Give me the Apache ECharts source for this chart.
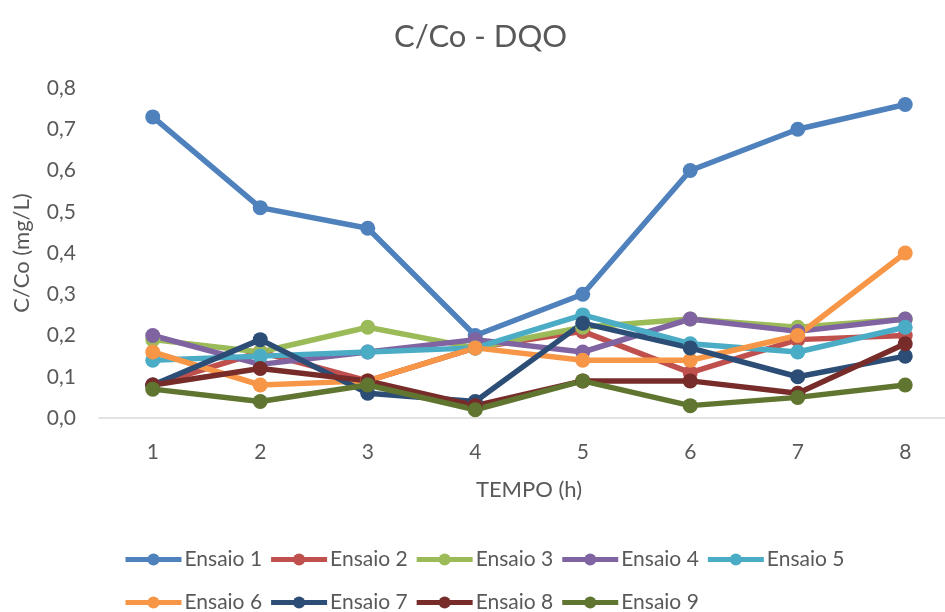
<!DOCTYPE html>
<html>
<head>
<meta charset="utf-8">
<script src="https://cdn.jsdelivr.net/npm/echarts@6/dist/echarts.min.js"></script>
<style>
html,body{margin:0;padding:0;background:#fff;}
#chart{width:945px;height:612px;}
</style>
</head>
<body>
<div id="chart"></div>
<script>
var categories = ['1','2','3','4','5','6','7','8'];
var yTicks = ['0,0','0,1','0,2','0,3','0,4','0,5','0,6','0,7','0,8'];
var seriesNames = ['Ensaio 1','Ensaio 2','Ensaio 3','Ensaio 4','Ensaio 5','Ensaio 6','Ensaio 7','Ensaio 8','Ensaio 9'];
var ensaio1 = [0.73, 0.51, 0.46, 0.20, 0.30, 0.60, 0.70, 0.76];
var ensaio2 = [0.08, 0.16, 0.09, 0.17, 0.21, 0.11, 0.19, 0.20];
var ensaio3 = [0.19, 0.16, 0.22, 0.17, 0.22, 0.24, 0.22, 0.24];
var ensaio4 = [0.20, 0.13, 0.16, 0.19, 0.16, 0.24, 0.21, 0.24];
var ensaio5 = [0.14, 0.15, 0.16, 0.17, 0.25, 0.18, 0.16, 0.22];
var ensaio6 = [0.16, 0.08, 0.09, 0.17, 0.14, 0.14, 0.20, 0.40];
var ensaio7 = [0.08, 0.19, 0.06, 0.04, 0.23, 0.17, 0.10, 0.15];
var ensaio8 = [0.08, 0.12, 0.09, 0.03, 0.09, 0.09, 0.06, 0.18];
var ensaio9 = [0.07, 0.04, 0.08, 0.02, 0.09, 0.03, 0.05, 0.08];
var allData = [ensaio1, ensaio2, ensaio3, ensaio4, ensaio5, ensaio6, ensaio7, ensaio8, ensaio9];
var colors = ['#4F81BD','#C0504D','#9BBB59','#8064A2','#4BACC6','#F79646','#2C4D75','#772C2A','#5F7530'];

var FONT = 'Lato';
var TXT = '#595959';

var chart = echarts.init(document.getElementById('chart'), null, {renderer:'canvas'});

var xValues = categories.map(function(c){ return Number(c); });

var series = seriesNames.map(function(n, i){
  return {
    name: n,
    type: 'line',
    data: allData[i].map(function(v, j){ return [xValues[j], v]; }),
    symbol: 'circle',
    symbolSize: 15,
    lineStyle: {width: 5.5, color: colors[i]},
    itemStyle: {color: colors[i]},
    emphasis: {disabled: true},
    animation: false
  };
});

var legendCommon = {
  left: 123,
  padding: 0,
  itemWidth: 56,
  itemHeight: 15,
  itemGap: 6.5,
  selectedMode: false,
  lineStyle: {width: 5},
  textStyle: {fontFamily: FONT, fontSize: 21, color: TXT, padding: [0,0,0,-2]}
};

chart.setOption({
  backgroundColor: '#fff',
  color: colors,
  animation: false,
  title: {
    text: 'C/Co - DQO',
    left: 389,
    top: 16,
    textStyle: {fontFamily: FONT, fontSize: 31, fontWeight: 'normal', color: TXT}
  },
  legend: [
    Object.assign({}, legendCommon, {top: 549, data: seriesNames.slice(0,5)}),
    Object.assign({}, legendCommon, {top: 592, data: seriesNames.slice(5)})
  ],
  grid: {left: 99, right: 0, top: 88, bottom: 194, containLabel: false},
  xAxis: {
    type: 'value',
    min: 0.5,
    max: 8.37,
    name: 'TEMPO (h)',
    nameLocation: 'middle',
    nameGap: 61,
    nameTextStyle: {fontFamily: FONT, fontSize: 22, color: TXT, padding: [0,0,0,14]},
    axisLine: {show: true, onZero: false, lineStyle: {color: '#D9D9D9', width: 1.5}},
    axisTick: {show: false},
    splitLine: {show: false},
    axisLabel: {
      fontFamily: FONT, fontSize: 21, color: TXT, margin: 24,
      customValues: xValues,
      formatter: function(v){ return categories[Math.round(v) - 1]; }
    }
  },
  yAxis: {
    type: 'value',
    min: 0,
    max: 0.8,
    interval: 0.1,
    name: 'C/Co (mg/L)',
    nameLocation: 'middle',
    nameGap: 66,
    nameTextStyle: {fontFamily: FONT, fontSize: 22, color: TXT},
    axisLine: {show: false},
    axisTick: {show: false},
    splitLine: {show: false},
    axisLabel: {
      fontFamily: FONT, fontSize: 21, color: TXT, margin: 23,
      formatter: function(v){ return yTicks[Math.round(v*10)]; }
    }
  },
  series: series
});
</script>
</body>
</html>
